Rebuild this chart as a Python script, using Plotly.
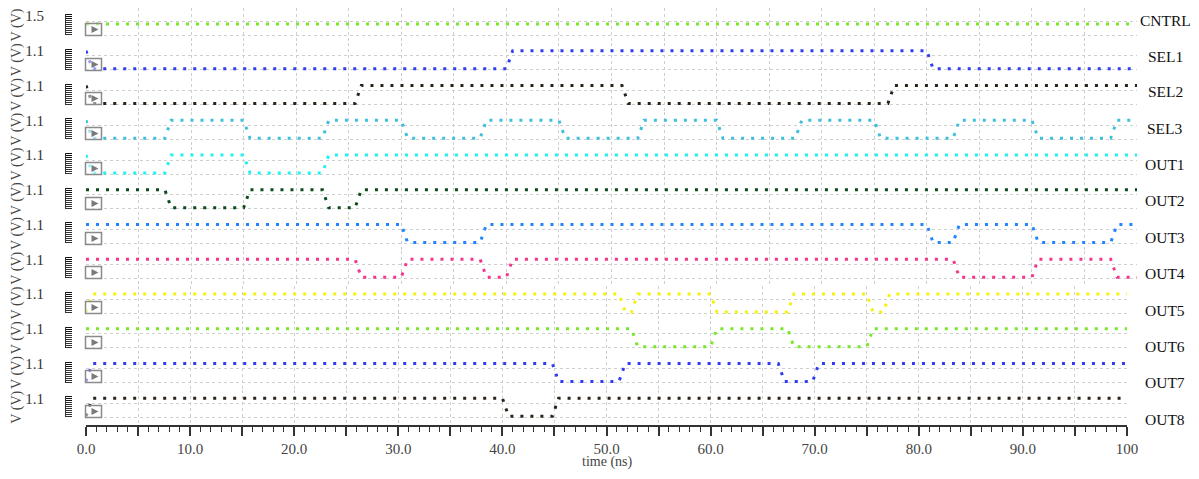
import plotly.graph_objects as go

# ---------------- data ----------------
NAMES = ["CNTRL", "SEL1", "SEL2", "SEL3", "OUT1", "OUT2",
         "OUT3", "OUT4", "OUT5", "OUT6", "OUT7", "OUT8"]
COLORS = ["#77e82a", "#2f3cf2", "#2b2218", "#3ec0dc", "#1ef2f2", "#0d4a1c",
          "#2384ff", "#f5358c", "#f4f20a", "#77e82a", "#2f3cf2", "#2b2218"]
TOP_TICK = ["1.5", "1.1", "1.1", "1.1", "1.1", "1.1",
            "1.1", "1.1", "1.1", "1.1", "1.1", "1.1"]
HIGH = [1.2, 1.1, 1.1, 1.1, 1.1, 1.1, 1.1, 1.1, 1.1, 1.1, 1.1, 1.1]
INIT = [1, 1, 1, 1, 1, 1, 1, 1, 0, 1, 0, 0]
EDGES = [
    [],                                                          # CNTRL
    [0, 40, 80],                                                 # SEL1
    [0, 25.6, 51.0, 76.3],                                       # SEL2
    [0, 7.5, 15, 22.5, 30, 37.5, 45, 52.5, 60, 67.5, 75, 82.5, 90, 97.5],  # SEL3
    [0, 7.5, 15, 22.5],                                          # OUT1
    [7.5, 15, 22.5, 25.6],                                       # OUT2
    [30, 37.5, 80, 82.5, 90, 97.5],                              # OUT3
    [25.6, 30, 37.5, 40, 82.5, 90, 97.5],                        # OUT4
    [0, 51.2, 52.4, 60, 67.4, 75, 76.6],                         # OUT5
    [52.4, 60, 67.4, 75],                                        # OUT6
    [0, 44.8, 51.2, 66.5, 69.8],                                 # OUT7
    [0, 40, 44.8],                                               # OUT8
]
T_END = [99.4] + [100] * 11
X_TICKS = [0, 5, 10, 15, 20, 25, 30, 35, 40, 45, 50,
           55, 60, 65, 70, 75, 80, 85, 90, 95, 100]
X_TICKTEXT = ["0.0", "", "10.0", "", "20.0", "", "30.0", "", "40.0", "", "50.0",
              "", "60.0", "", "70.0", "", "80.0", "", "90.0", "", "100"]
X_TITLE = "time (ns)"

# ---------------- geometry / style ----------------
# the page body adds an 8 px margin on every side, so the figure is made
# 16 px smaller than the window to avoid any page overflow
OFF = 8
W, H = 1199 - 2 * OFF, 479 - 2 * OFF
ML, MT = 86 - OFF, 0
MR = W - (1137 - OFF)
MB = H - (425 - OFF)
PW, PH = W - ML - MR, H - MT - MB
N = len(NAMES)
LANE = PH / N
TRANS = 0.6
SERIF = "Times New Roman, Liberation Serif, Tinos, serif"
GRID = "#cfcfcf"


def pxx(x):   # absolute page x (reference pixels) -> paper
    return (x - OFF - ML) / PW


def pyy(y):   # absolute page y -> paper
    return (H - MB - (y - OFF)) / PH


def lane_top(i):   # absolute page y of lane i top
    return OFF + MT + i * LANE


def wave(init, edges, hi, end):
    xs, ys, lvl = [0.0], [init * hi], init
    for t in edges:
        xs += [t, t + TRANS]
        ys += [lvl * hi, (1 - lvl) * hi]
        lvl = 1 - lvl
    xs.append(end)
    ys.append(lvl * hi)
    return xs, ys


fig = go.Figure()
shapes, annots = [], []
layout = {}

for i, name in enumerate(NAMES):
    k = "" if i == 0 else str(i + 1)
    xs, ys = wave(INIT[i], EDGES[i], HIGH[i], T_END[i])
    fig.add_trace(go.Scatter(
        x=xs, y=ys, mode="lines", xaxis="x" + k, yaxis="y" + k,
        line=dict(color=COLORS[i], width=3, dash="3px,7px"),
        hoverinfo="skip", showlegend=False))

    top = 1 - i / N
    bot = 1 - (i + 1) / N
    wide = i < 8
    xdom = [0, 1.0] if wide else [0, pxx(1127)]

    if i == 0:
        scale = 8 / 0.3
        ytop = 1.5 + 8 / scale
        tickv = 1.5
    else:
        scale = 18 / HIGH[i]
        ytop = HIGH[i] + 8 / scale
        tickv = HIGH[i]
    ybot = ytop - LANE / scale
    g1 = ytop - 13 / scale
    g2 = ytop - 27 / scale

    xa = dict(domain=xdom, range=[0, 100], anchor="y" + k, automargin=False,
              showgrid=True, gridcolor=GRID, griddash="dot", gridwidth=1,
              tickvals=X_TICKS, zeroline=False, fixedrange=True)
    if i == N - 1:
        xa.update(showline=True, linecolor="#333", linewidth=2,
                  ticks="outside", ticklen=9, tickwidth=1.5, tickcolor="#333",
                  ticktext=X_TICKTEXT, showticklabels=True,
                  tickfont=dict(family=SERIF, size=15, color="#444"),
                  minor=dict(dtick=1, ticks="outside", ticklen=5,
                             tickcolor="#333", tickwidth=1.2, showgrid=False))
    else:
        xa.update(showticklabels=False, ticks="")
    layout["xaxis" + k] = xa

    layout["yaxis" + k] = dict(
        domain=[bot, top], range=[ybot, ytop], anchor="x" + k, automargin=False,
        tickvals=[tickv], ticktext=[TOP_TICK[i]], ticks="outside",
        ticklen=38, tickcolor="rgba(0,0,0,0)", showgrid=False,
        tickfont=dict(family=SERIF, size=15, color="#333"),
        zeroline=False, showline=False, fixedrange=True,
        minor=dict(tickvals=[g1, g2], showgrid=True, gridcolor=GRID,
                   griddash="dot", gridwidth=1, ticks=""))

    lt = lane_top(i)
    bt, bb = round(lt + 15) + 0.5, round(lt + 27) + 0.5
    shapes.append(dict(type="rect", xref="paper", yref="paper",
                       x0=pxx(85.5), x1=pxx(101.5), y0=pyy(bb), y1=pyy(bt),
                       line=dict(color="#8a8a8a", width=1.5),
                       fillcolor="rgba(255,255,255,0.5)", layer="above"))
    tm = (bt + bb) / 2
    shapes.append(dict(type="path", xref="paper", yref="paper",
                       path="M {a},{b} L {c},{d} L {a},{e} Z".format(
                           a=pxx(91.5), c=pxx(98.5),
                           b=pyy(tm - 3.5), d=pyy(tm), e=pyy(tm + 3.5)),
                       line=dict(width=0), fillcolor="#7a7a7a", layer="above"))
    base = round(lt + 6)
    for j in range(11):
        yy = base + j * 2 + 0.5
        shapes.append(dict(type="line", xref="paper", yref="paper",
                           x0=pxx(65), x1=pxx(72), y0=pyy(yy), y1=pyy(yy),
                           line=dict(color="#111" if j < 3 else "#333", width=1)))
    shapes.append(dict(type="line", xref="paper", yref="paper",
                       x0=pxx(65.5), x1=pxx(65.5), y0=pyy(base), y1=pyy(base + 21),
                       line=dict(color="#333", width=1)))
    annots.append(dict(text="V (V)", textangle=-90, xref="paper", yref="y" + k + " domain",
                       x=pxx(17), y=0.5, xanchor="center", yanchor="middle",
                       showarrow=False,
                       font=dict(family=SERIF, size=14, color="#444")))

LABEL_Y = [20, 56.7, 91.7, 128.3, 164, 200.7, 237, 273.3, 310, 346.7, 382.7, 419.3]
for name, ly in zip(NAMES, LABEL_Y):
    annots.append(dict(text=name, xref="paper", yref="paper",
                       x=pxx(1165), y=pyy(ly), xanchor="center", yanchor="middle",
                       showarrow=False,
                       font=dict(family=SERIF, size=15.5, color="#111")))

# x-axis title, centred under the lower strips
annots.append(dict(text=X_TITLE, xref="paper", yref="paper",
                   x=pxx(606.5), y=pyy(471), xanchor="center", yanchor="bottom",
                   showarrow=False, borderpad=0,
                   font=dict(family=SERIF, size=14, color="#444")))

fig.update_layout(
    width=W, height=H, margin=dict(l=ML, r=MR, t=MT, b=MB, autoexpand=False),
    paper_bgcolor="white", plot_bgcolor="white",
    shapes=shapes, annotations=annots, **layout)

fig.write_html("out.html")
